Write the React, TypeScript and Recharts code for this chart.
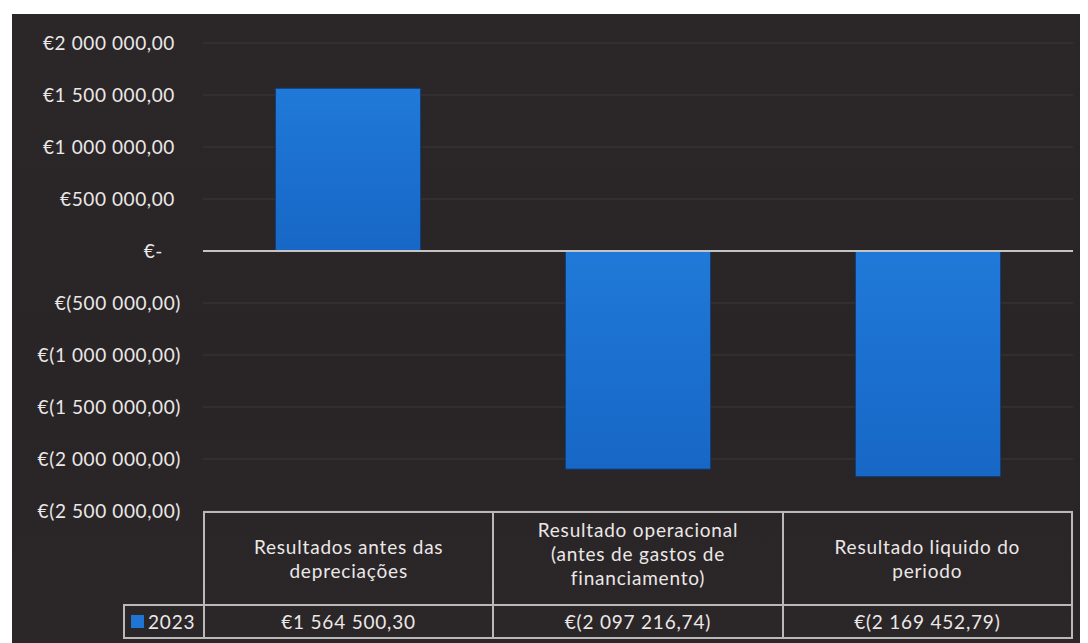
import React from "react";
import { BarChart, Bar, XAxis, YAxis, CartesianGrid, ReferenceLine } from "recharts";

const categories = [
  "Resultados antes das\ndepreciações",
  "Resultado operacional\n(antes de gastos de\nfinanciamento)",
  "Resultado liquido do\nperiodo",
];
const seriesName = "2023";
const values2023 = [1564500.3, -2097216.74, -2169452.79];
const yTicks = [2000000, 1500000, 1000000, 500000, 0, -500000, -1000000, -1500000, -2000000, -2500000];

const data = categories.map((c, i) => ({ name: c, v: values2023[i] }));

const FONT = "Lato, 'Open Sans', sans-serif";
const TEXT = "#ebe8e8";
const BORDER = "#b9b9b9";

function euro(n: number): string {
  if (n === 0) return "€-";
  const abs = Math.abs(n);
  const [int, dec] = abs.toFixed(2).split(".");
  const grouped = int.replace(/\B(?=(\d{3})+(?!\d))/g, " ");
  const s = `${grouped},${dec}`;
  return n < 0 ? `€(${s})` : `€${s}`;
}

function YTick(props: any) {
  const { x, y, payload } = props;
  const v = payload.value as number;
  const off = v === 0 ? 40 : v < 0 ? 22 : 28;
  return (
    <text
      x={x - off}
      y={y}
      dy="0.35em"
      textAnchor="end"
      fill={TEXT}
      fontSize={19}
      fontFamily={FONT}
      style={{ letterSpacing: "0.6px" }}
    >
      {euro(v)}
    </text>
  );
}

const W = 1076;
const H = 629;
const PLOT_L = 191;
const PLOT_R = 1061;
const PLOT_T = 29;
const PLOT_B = 497;
const HEAD_H = 93;
const ROW_H = 35;
const colW = (PLOT_R - PLOT_L) / categories.length;

export default function App() {
  return (
    <div
      style={{
        position: "relative",
        marginLeft: 4,
        marginTop: 6,
        width: W,
        height: H,
        background: "linear-gradient(180deg, #2b2628 0%, #292425 60%, #2b2627 100%)",
        fontFamily: FONT,
      }}
    >
      <BarChart
        width={W}
        height={H}
        data={data}
        margin={{ top: PLOT_T, right: W - PLOT_R, left: 0, bottom: H - PLOT_B }}
        barCategoryGap="25%"
      >
        <defs>
          <linearGradient id="barFill" x1="0" y1="0" x2="0" y2="1">
            <stop offset="0%" stopColor="#2079d8" />
            <stop offset="100%" stopColor="#1767c6" />
          </linearGradient>
        </defs>
        <CartesianGrid vertical={false} stroke="#3c3839" />
        <XAxis dataKey="name" hide />
        <YAxis
          width={PLOT_L}
          domain={[-2500000, 2000000]}
          ticks={yTicks}
          interval={0}
          axisLine={false}
          tickLine={false}
          tickSize={0}
          tickMargin={0}
          tick={<YTick />}
        />
        <Bar dataKey="v" fill="url(#barFill)" stroke="#0e3f7a" strokeWidth={1} isAnimationActive={false} />
        <ReferenceLine y={0} stroke="#c4c4c4" strokeWidth={2} />
      </BarChart>

      {/* data table under the plot */}
      <div
        style={{
          position: "absolute",
          left: PLOT_L,
          top: PLOT_B,
          width: PLOT_R - PLOT_L,
          height: HEAD_H,
          display: "flex",
          boxSizing: "border-box",
          border: `2px solid ${BORDER}`,
          borderBottom: "none",
        }}
      >
        {categories.map((c, i) => (
          <div
            key={i}
            style={{
              flex: 1,
              display: "flex",
              alignItems: "center",
              justifyContent: "center",
              textAlign: "center",
              whiteSpace: "pre-line",
              color: TEXT,
              fontSize: 19,
              letterSpacing: "0.8px",
              lineHeight: "24px",
              paddingBottom: i === 1 ? 10 : 0,
              boxSizing: "border-box",
              borderLeft: i > 0 ? `2px solid ${BORDER}` : "none",
            }}
          >
            {c}
          </div>
        ))}
      </div>
      <div
        style={{
          position: "absolute",
          left: 111,
          top: PLOT_B + HEAD_H,
          width: PLOT_R - 111,
          height: ROW_H,
          display: "flex",
          boxSizing: "border-box",
          border: `2px solid ${BORDER}`,
          color: TEXT,
          fontSize: 19,
          letterSpacing: "0.8px",
        }}
      >
        <div
          style={{
            width: PLOT_L - 111 - 2,
            display: "flex",
            alignItems: "center",
            paddingLeft: 6,
            boxSizing: "border-box",
          }}
        >
          <span style={{ display: "inline-block", width: 13, height: 13, background: "#1f74d4", marginRight: 4 }} />
          {seriesName}
        </div>
        {values2023.map((v, i) => (
          <div
            key={i}
            style={{
              width: colW,
              display: "flex",
              alignItems: "center",
              justifyContent: "center",
              borderLeft: `2px solid ${BORDER}`,
              boxSizing: "border-box",
            }}
          >
            {euro(v)}
          </div>
        ))}
      </div>
    </div>
  );
}
